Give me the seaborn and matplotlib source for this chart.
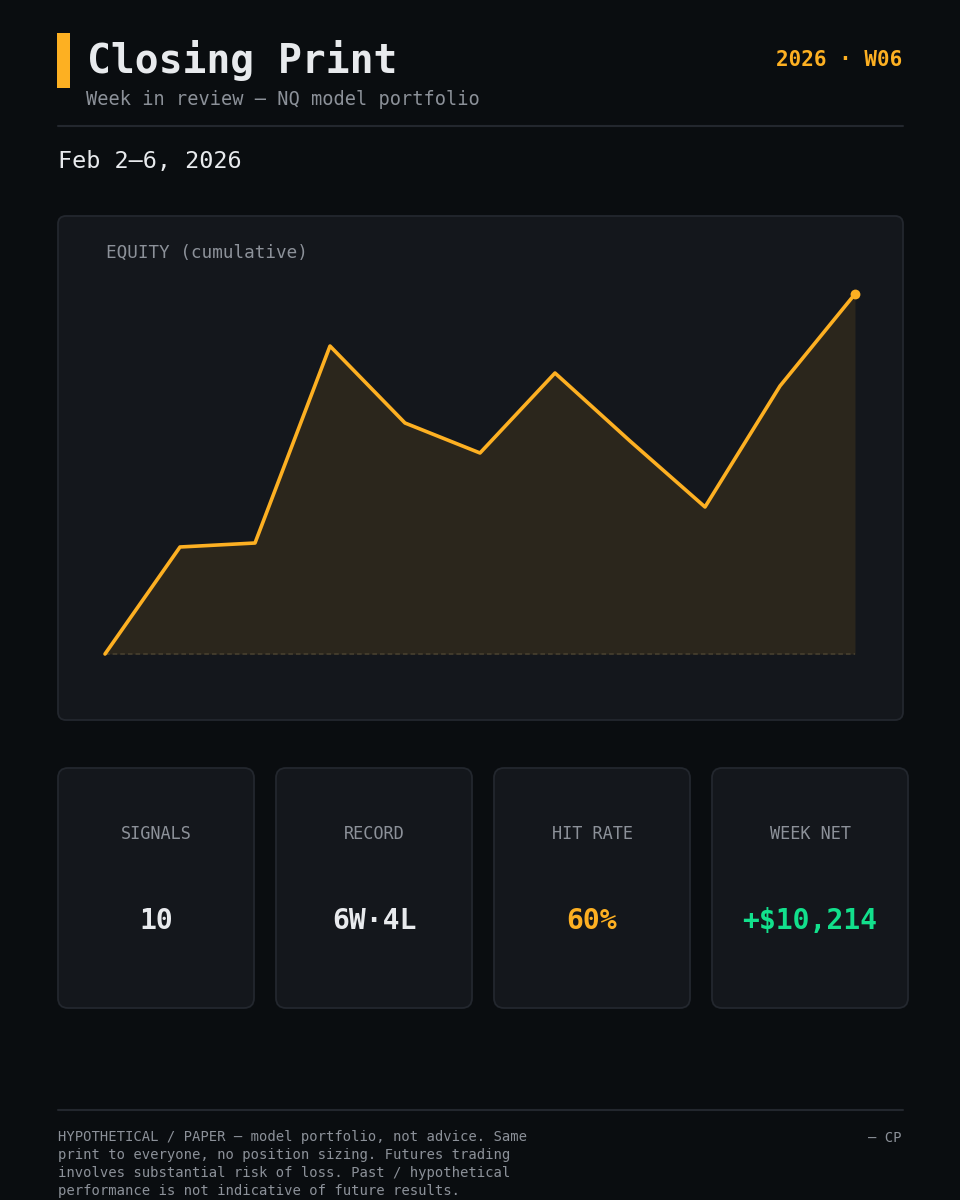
import matplotlib
matplotlib.use("Agg")
import matplotlib.pyplot as plt
from matplotlib.patches import FancyBboxPatch, Rectangle
import seaborn as sns
import pandas as pd

# ---------------- data ----------------
signal_idx = [0, 1, 2, 3, 4, 5, 6, 7, 8, 9, 10]
equity = [0, 3036, 3149, 8738, 6554, 5703, 7972, 6043, 4171, 7604, 10214]

stat_labels = ["SIGNALS", "RECORD", "HIT RATE", "WEEK NET"]
stat_values = ["10", "6W·4L", "60%", "+$10,214"]

title = "Closing Print"
subtitle = "Week in review — NQ model portfolio"
week_tag = "2026 · W06"
date_range = "Feb 2–6, 2026"
chart_label = "EQUITY (cumulative)"
footer_lines = [
    "HYPOTHETICAL / PAPER — model portfolio, not advice. Same",
    "print to everyone, no position sizing. Futures trading",
    "involves substantial risk of loss. Past / hypothetical",
    "performance is not indicative of future results.",
]
signature = "— CP"

# ---------------- style ----------------
BG = "#0a0d10"
PANEL = "#14171c"
BORDER = "#23272e"
ORANGE = "#fdb022"
WHITE = "#e8eaed"
GRAY = "#8c9199"
GREEN = "#12e08c"
value_colors = [WHITE, WHITE, ORANGE, GREEN]

sns.set_theme(style="dark")
plt.rcParams["font.family"] = ["DejaVu Sans Mono", "DejaVu Sans"]

W, H = 960, 1200
fig = plt.figure(figsize=(W / 100, H / 100), dpi=100, facecolor=BG)

# background layer in pixel coordinates
bg = fig.add_axes([0, 0, 1, 1], zorder=0)
bg.set_xlim(0, W)
bg.set_ylim(H, 0)
bg.axis("off")
bg.set_facecolor(BG)

def rbox(x0, y0, x1, y1, r=10, fc=PANEL, ec=BORDER, lw=1.3):
    p = FancyBboxPatch((x0 + r, y0 + r), (x1 - x0) - 2 * r, (y1 - y0) - 2 * r,
                       boxstyle=f"round,pad={r}", fc=fc, ec=ec, lw=lw)
    bg.add_patch(p)

# header
bg.add_patch(Rectangle((57, 33), 13, 55, fc=ORANGE, ec="none"))
bg.text(87, 73, title, color=WHITE, fontsize=28.5, fontweight="bold", va="baseline")
bg.text(86, 105, subtitle, color=GRAY, fontsize=13.4, va="baseline")
bg.text(902, 66, week_tag, color=ORANGE, fontsize=15, fontweight="bold",
        va="baseline", ha="right")
bg.plot([58, 903], [126, 126], color=BORDER, lw=1.5)
bg.text(58, 168, date_range, color=WHITE, fontsize=16.9, va="baseline")

# chart panel
rbox(58, 216, 903, 720, r=8)
bg.text(106, 258, chart_label, color=GRAY, fontsize=12.7, va="baseline")

# stat cards
card_x = [58, 276, 494, 712]
for cx, lab, val, col in zip(card_x, stat_labels, stat_values, value_colors):
    rbox(cx, 768, cx + 196, 1008, r=10)
    bg.text(cx + 98, 839, lab, color=GRAY, fontsize=12.2, ha="center", va="baseline")
    bg.text(cx + 98, 929, val, color=col, fontsize=20.2, fontweight="bold",
            ha="center", va="baseline")

# footer
bg.plot([58, 903], [1110, 1110], color=BORDER, lw=1.5)
for i, line in enumerate(footer_lines):
    bg.text(58, 1141 + 18 * i, line, color=GRAY, fontsize=10, va="baseline")
bg.text(902, 1142, signature, color=GRAY, fontsize=10, ha="right", va="baseline")

# equity chart axes
x0, x1, ytop, ybot = 105, 855, 294, 654
ax = fig.add_axes([x0 / W, 1 - ybot / H, (x1 - x0) / W, (ybot - ytop) / H], zorder=2)
ax.patch.set_alpha(0)
df = pd.DataFrame({"idx": signal_idx, "equity": equity})
ax.fill_between(df["idx"], df["equity"], 0, color=ORANGE, alpha=0.1, lw=0, zorder=1)
ax.plot([df["idx"].min(), df["idx"].max()], [0, 0], color="#4a4230", lw=1.1,
        ls=(0, (3, 2)), zorder=2, clip_on=False)
sns.lineplot(data=df, x="idx", y="equity", ax=ax, color=ORANGE, lw=2.6,
             solid_capstyle="round", solid_joinstyle="round", clip_on=False, zorder=3)
ax.scatter([df["idx"].iloc[-1]], [df["equity"].iloc[-1]], s=50, color=ORANGE,
           zorder=4, clip_on=False, lw=0)
ax.set_xlim(df["idx"].min(), df["idx"].max())
ax.set_ylim(0, max(equity))
ax.axis("off")

fig.savefig("out.png", dpi=100, facecolor=BG)
